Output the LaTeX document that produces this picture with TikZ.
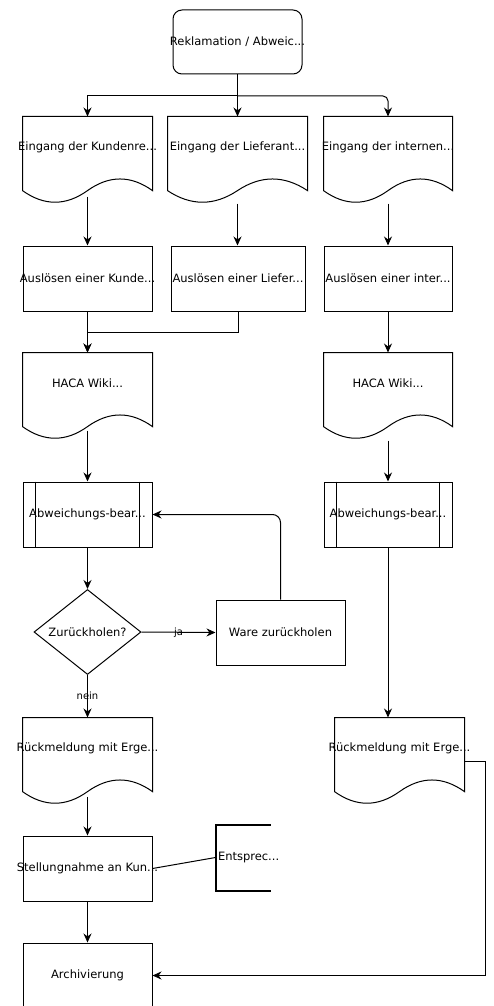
\documentclass[tikz,border=0pt]{standalone}
\usepackage{fontspec}
\setmainfont{DejaVu Sans}
\usetikzlibrary{shapes.geometric,arrows.meta,calc}

\newcommand{\ctr}[1]{\makebox[0pt]{#1}}
\newcommand{\docpath}[1]{%
  \draw (#1.north west) -- (#1.north east) -- ([yshift=-12.9pt]#1.south east)
    .. controls ($(#1.south east)!1/6!(#1.south west)+(0pt,2.6pt)$) and ($(#1.south east)!1/3!(#1.south west)+(0pt,2.6pt)$) .. ([yshift=-12.9pt]#1.south)
    .. controls ($(#1.south west)!1/3!(#1.south east)+(0pt,-28.4pt)$) and ($(#1.south west)!1/6!(#1.south east)+(0pt,-28.4pt)$) .. ([yshift=-12.9pt]#1.south west) -- cycle;}
\newcommand{\subproc}[1]{%
  \draw ([xshift=13pt]#1.north west) -- ([xshift=13pt]#1.south west);
  \draw ([xshift=-13pt]#1.north east) -- ([xshift=-13pt]#1.south east);}

\begin{document}
\begin{tikzpicture}[x=1pt, y=-1pt, line width=1pt,
  every node/.style={font=\fontsize{11.5}{14}\selectfont},
  box/.style={draw, minimum width=129pt, minimum height=65pt, inner sep=0pt},
  startbox/.style={box, rounded corners=9pt, minimum height=64pt},
  doc/.style={minimum width=129pt, minimum height=60.2pt, inner sep=0pt},
  dec/.style={diamond, draw, minimum width=107pt, minimum height=85pt, inner sep=0pt},
  note/.style={minimum width=54pt, minimum height=65pt, inner sep=2pt},
  elbl/.style={font=\fontsize{10}{12}\selectfont},
  arr/.style={-{Stealth[length=9pt,width=8pt]}}]

\useasboundingbox (0,0) rectangle (493,1006);

\node[startbox] (start) at (237.5,42) {\ctr{Reklamation / Abweic...}};

\node[doc] (d1) at (87.5,147.1) {\ctr{Eingang der Kundenre...}};
\node[doc, minimum width=139pt] (d2) at (237.5,147.1) {\ctr{Eingang der Lieferant...}};
\node[doc, minimum width=128pt] (d3) at (388,147.1) {\ctr{Eingang der internen...}};

\node[box] (p1) at (87.5,278.5) {\ctr{Auslösen einer Kunde...}};
\node[box, minimum width=134pt] (p2) at (238,278.5) {\ctr{Auslösen einer Liefer...}};
\node[box, minimum width=128pt] (p3) at (388,278.5) {\ctr{Auslösen einer inter...}};

\node[doc] (w1) at (87.5,383.1) {\ctr{HACA Wiki...}};
\node[doc, minimum width=128pt] (w2) at (388,383.1) {\ctr{HACA Wiki...}};

\node[box] (a1) at (87.5,514.5) {\ctr{Abweichungs-bear...}};
\node[box, minimum width=128pt] (a2) at (388,514.5) {\ctr{Abweichungs-bear...}};

\node[dec] (q) at (87.5,632) {\ctr{Zurückholen?}};
\node[box] (ware) at (280.5,632.5) {\ctr{Ware zurückholen}};

\node[doc] (r1) at (87.5,748.1) {\ctr{Rückmeldung mit Erge...}};
\node[doc] (r2) at (399.5,748.1) {\ctr{Rückmeldung mit Erge...}};

\node[box] (s) at (87.5,868.5) {\ctr{Stellungnahme an Kun...}};
\node[note] (ann) at (243,857.5) {\makebox[50pt][l]{Entsprec...}};
\node[box] (arch) at (87.5,975.5) {\ctr{Archivierung}};

% -------- shapes -----------
\foreach \n in {d1,d2,d3,w1,w2,r1,r2} {\docpath{\n}}
\foreach \n in {a1,a2} {\subproc{\n}}
\draw[line width=2pt] (ann.north east) -- (ann.north west) -- (ann.south west) -- (ann.south east);

% -------- connectors -----------
\coordinate (split) at (237.5,96);
\draw (start.south) -- (split);
\draw[arr] (split) -| (d1.north);
\draw[arr] (split) -- (d2.north);
\draw[arr, rounded corners=5pt] (split) -| (d3.north);

\draw[arr] ([yshift=-19pt]d1.south) -- (p1.north);
\draw[arr] ([yshift=-26pt]d2.south) -- (d2.south |- p2.north);
\draw[arr] ([yshift=-26pt]d3.south) -- (p3.north);

\draw[arr] (p1.south) -- (w1.north);
\draw[arr] (p2.south) -- ++(0,21) -| (w1.north);
\draw[arr] (p3.south) -- (w2.north);

\draw[arr] ([yshift=-17pt]w1.south) -- (a1.north);
\draw[arr] ([yshift=-27pt]w2.south) -- (a2.north);

\draw[arr] (a1.south) -- (q.north);
\draw[arr] (q.east) -- node[elbl] {ja} (ware.west);
\draw[arr, rounded corners=8pt] (ware.north) |- (a1.east);
\draw[arr] (q.south) -- node[elbl] {nein} (r1.north);
\draw[arr] (a2.south) -- (a2.south |- r2.north);

\draw[arr] ([yshift=-18pt]r1.south) -- (s.north);
\draw (s.east) -- (ann.west);
\draw[arr] (s.south) -- (arch.north);
\draw[arr] ([yshift=-13pt]r2.east) -- ++(21,0) |- (arch.east);
\end{tikzpicture}
\end{document}
